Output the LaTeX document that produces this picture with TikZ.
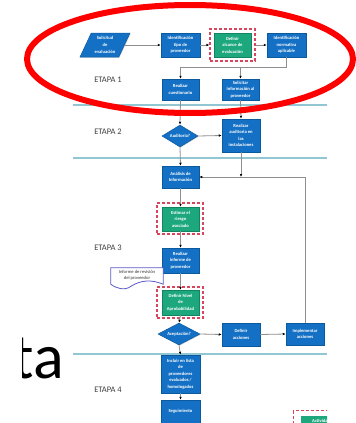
\documentclass[tikz,border=0pt]{standalone}
\usepackage{fontspec}
\setmainfont{Carlito}
\usetikzlibrary{shapes.geometric,arrows.meta,shadows,calc}

\definecolor{boxblue}{HTML}{1470C4}
\definecolor{boxblueD}{HTML}{0B5A9E}
\definecolor{boxgreen}{HTML}{1DA77C}
\definecolor{boxgreenD}{HTML}{13845F}
\definecolor{dashred}{HTML}{D6475E}
\definecolor{conngrey}{HTML}{8E8E8E}
\definecolor{stageline}{HTML}{92C6D2}
\definecolor{docborder}{HTML}{5A5AC8}
\definecolor{labelgrey}{HTML}{404040}

\newcommand{\boxfont}{\fontsize{4.6}{6.6}\selectfont\bfseries}

\tikzset{
  shade/.style={drop shadow={shadow xshift=0.7pt,shadow yshift=-0.7pt,opacity=0.35}},
  bluebox/.style={rectangle, fill=boxblue, draw=boxblueD, line width=0.5pt,
    text=white, font=\boxfont, align=center, inner sep=0pt, shade},
  greenbox/.style={bluebox, fill=boxgreen, draw=boxgreenD},
  decision/.style={diamond, fill=boxblue, draw=boxblueD, line width=0.5pt,
    text=white, font=\boxfont, align=center, inner sep=0pt, shape aspect=1.6, shade},
  inputbox/.style={trapezium, trapezium left angle=63, trapezium right angle=117,
    trapezium stretches=true, fill=boxblue, draw=boxblueD, line width=0.5pt,
    text=white, font=\boxfont, align=center, inner sep=0pt, shade},
  keyframe/.style={rectangle, draw=dashred, line width=1.1pt, dash pattern=on 3pt off 2pt,
    inner sep=0pt},
  conn/.style={draw=conngrey, line width=0.8pt},
  arr/.style={conn, -{Latex[length=3pt,width=2.6pt,color=black]}},
  stagesep/.style={draw=stageline, line width=1.4pt},
  stagelabel/.style={font=\fontsize{8.5}{10}\selectfont, text=labelgrey},
}

\begin{document}
\begin{tikzpicture}[x=1pt,y=-1pt]
\useasboundingbox (0,0) rectangle (356,423);
\fill[white] (0,0) rectangle (356,423);

% large slide text, cut at its left side
\begin{scope}
  \clip (22,320) rectangle (72,400);
  \node[anchor=base east, inner sep=0pt, font=\fontsize{64}{64}\selectfont] (bigta) at (64,378) {ta};
\end{scope}

% stage separators
\draw[stagesep] (73,105) -- (327,105);
\draw[stagesep] (73,158) -- (327,158);
\draw[stagesep] (73,354) -- (327,354);

% stage labels
\node[stagelabel] (et1) at (108,80) {ETAPA 1};
\node[stagelabel] (et2) at (108,132) {ETAPA 2};
\node[stagelabel] (et3) at (108,248) {ETAPA 3};
\node[stagelabel] (et4) at (108,390) {ETAPA 4};

% ---- stage 1
\node[inputbox, minimum width=50pt, minimum height=24pt] (sol) at (105,45) {Solicitud\\de\\evaluación};
\node[bluebox, minimum width=39pt, minimum height=24pt] (tipo) at (180.5,45) {Identificación\\tipo de\\proveedor};
\node[keyframe, minimum width=45pt, minimum height=32pt] (alcf) at (232.5,45) {};
\node[greenbox, minimum width=37pt, minimum height=24pt] (alc) at (232.5,45) {Definir\\alcance de\\evaluación};
\node[bluebox, minimum width=39pt, minimum height=24pt] (norm) at (286.5,45) {Identificación\\normativa\\aplicable};
\node[bluebox, minimum width=37pt, minimum height=21pt] (cues) at (180.5,89.5) {Realizar\\cuestionario};
\node[bluebox, minimum width=37pt, minimum height=21pt] (soli) at (240.5,89.5) {Solicitar\\información al\\proveedor};

% ---- stage 2
\node[decision, minimum width=36pt, minimum height=22pt] (aud) at (180,136) {Auditoria?};
\node[bluebox, minimum width=38pt, minimum height=33pt] (audi) at (241,135.5) {Realizar\\auditoria en\\las\\instalaciones};

% ---- stage 3
\node[bluebox, minimum width=37pt, minimum height=22pt] (anal) at (180.5,177) {Análisis de\\Información};
\node[keyframe, minimum width=46pt, minimum height=31pt] (estf) at (180,218.5) {};
\node[greenbox, minimum width=37pt, minimum height=24pt] (est) at (180.5,219) {Estimar el\\riesgo\\asociado};
\node[bluebox, minimum width=37pt, minimum height=25pt] (inf) at (180.5,260.5) {Realizar\\informe de\\proveedor};
\node[keyframe, minimum width=46pt, minimum height=31pt] (nivf) at (180,302.5) {};
\node[greenbox, minimum width=37pt, minimum height=25pt] (niv) at (180.5,302.5) {Definir Nivel\\de\\Aprobabilidad};
\node[decision, minimum width=42pt, minimum height=22pt] (acep) at (179,334) {Aceptación?};
\node[bluebox, minimum width=38pt, minimum height=23pt] (defa) at (241,334.5) {Definir\\acciones};
\node[bluebox, minimum width=38pt, minimum height=22pt] (impl) at (305,334) {Implementar\\acciones};

% document symbol with wavy lower edge
\node[minimum width=52pt, minimum height=16pt, inner sep=0pt] (doc) at (137,276) {};
\filldraw[fill=white, draw=docborder, line width=0.8pt]
  (doc.north west) -- (doc.north east) -- (doc.south east)
  .. controls ($(doc.south east)+(-12,-5)$) and ($(doc.south west)+(30,-4)$) .. ($(doc.south)+(-6,2)$)
  .. controls ($(doc.south west)+(14,7)$) and ($(doc.south west)+(5,4)$) .. (doc.south west) -- cycle;
\node[font=\fontsize{4.6}{6.4}\selectfont, text=black!80, align=center, inner sep=0pt] (doctext) at (137,275) {Informe de revisión\\del proveedor};

% ---- stage 4
\node[bluebox, minimum width=39pt, minimum height=38pt] (incl) at (180.5,374) {Incluir en lista\\de\\proveedores\\evaluados /\\homologados};
\node[bluebox, minimum width=39pt, minimum height=23pt] (seg) at (180.5,411.5) {Seguimiento};

% ---- connectors
\draw[arr] (sol.east) -- (tipo.west);
\draw[arr] (tipo.east) -- (alcf.west);
\draw[arr] (alcf.east) -- (norm.west);
\draw[arr] (norm.south) -- ++(0,10) coordinate (j1) -| (cues.north);
\draw[arr] (j1 -| soli.north) -- (soli.north);
\draw[arr] (cues.south) -- (aud.north);
\draw[arr] (soli.south) -- (audi.north);
\draw[arr] (aud.east) -- (audi.west);
\draw[arr] (aud.south) -- (anal.north);
\draw[arr] (audi.south) -- (audi.south |- anal.east);
\draw[arr] (impl.north) |- (anal.east);
\draw[arr] (anal.south) -- (est.north);
\draw[arr] (est.south) -- (inf.north);
\draw[arr] (inf.south) -- (niv.north);
\draw[arr] (niv.south) -- (acep.north);
\draw[arr] (acep.east) -- (defa.west);
\draw[arr] (defa.east) -- (impl.west);
\draw[arr] (acep.south) -- (incl.north);
\draw[arr] (incl.south) -- (seg.north);

% legend, cut at the slide edge
\begin{scope}
  \clip (280,400) rectangle (327,423);
  \node[keyframe, minimum width=50pt, minimum height=20pt, anchor=north west] (legf) at (293,410) {};
  \node[rectangle, fill=boxgreen, anchor=north west, minimum width=40pt, minimum height=10pt,
        inner sep=1pt, text=white, font=\fontsize{4.6}{5}\selectfont\bfseries] (leg) at (301,415.5) {Actividad\hspace{12pt}};
\end{scope}

% highlight ring round stage 1
\draw[red, line width=6pt] (190,59) ellipse [x radius=163, y radius=54];
\end{tikzpicture}
\end{document}
